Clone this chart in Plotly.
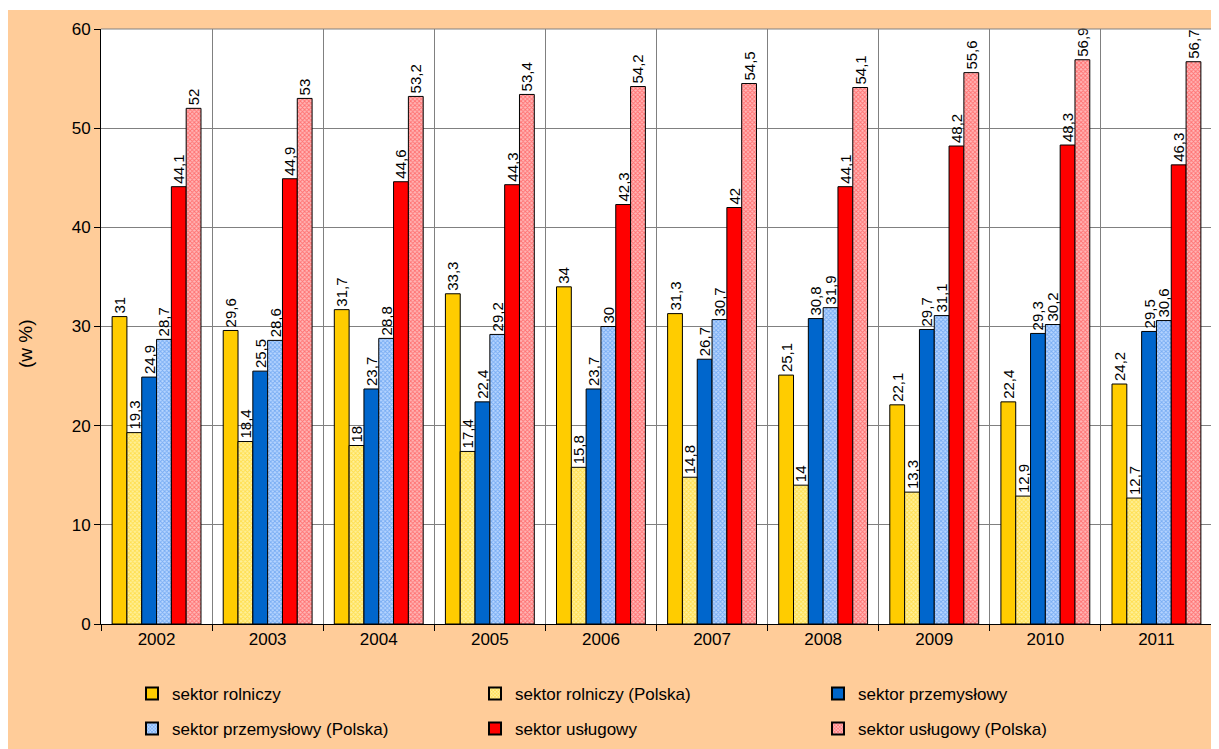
import plotly.graph_objects as go

years = ["2002", "2003", "2004", "2005", "2006", "2007", "2008", "2009", "2010", "2011"]
rolniczy = [31, 29.6, 31.7, 33.3, 34, 31.3, 25.1, 22.1, 22.4, 24.2]
rolniczy_pl = [19.3, 18.4, 18, 17.4, 15.8, 14.8, 14, 13.3, 12.9, 12.7]
przemyslowy = [24.9, 25.5, 23.7, 22.4, 23.7, 26.7, 30.8, 29.7, 29.3, 29.5]
przemyslowy_pl = [28.7, 28.6, 28.8, 29.2, 30, 30.7, 31.9, 31.1, 30.2, 30.6]
uslugowy = [44.1, 44.9, 44.6, 44.3, 42.3, 42, 44.1, 48.2, 48.3, 46.3]
uslugowy_pl = [52, 53, 53.2, 53.4, 54.2, 54.5, 54.1, 55.6, 56.9, 56.7]

series = [
    ("sektor rolniczy", rolniczy, "#FFCC00", None, "legend"),
    ("sektor rolniczy (Polska)", rolniczy_pl, "#FFF09A", "#FFCC00", "legend"),
    ("sektor przemysłowy", przemyslowy, "#0066CC", None, "legend"),
    ("sektor przemysłowy (Polska)", przemyslowy_pl, "#B8D6FF", "#3380E6", "legend2"),
    ("sektor usługowy", uslugowy, "#FF0000", None, "legend2"),
    ("sektor usługowy (Polska)", uslugowy_pl, "#FFB8B8", "#FF2828", "legend2"),
]

def fmt(v):
    return ("%g" % v).replace(".", ",")

FONT = "Liberation Sans, Arial, sans-serif"

fig = go.Figure()
for name, vals, col, fg, leg in series:
    marker = dict(color=col, line=dict(color="black", width=1))
    if fg is not None:
        marker["pattern"] = dict(shape="x", fgcolor=fg, bgcolor=col, size=3, solidity=0.5, fillmode="overlay")
    fig.add_trace(go.Bar(
        name=name, x=years, y=vals, marker=marker, legend=leg,
        text=[fmt(v) for v in vals], textposition="outside", textangle=-90,
        textfont=dict(family=FONT, size=15, color="black"),
        cliponaxis=False, constraintext="none",
    ))

# page body has an 8px margin; figure coordinates below are relative to it
W, H = 1211, 741
L, R, T, B = 93, 7, 21, 125
pw, ph = W - L - R, H - T - B

leg_common = dict(orientation="h", xref="container", yref="container", xanchor="left",
                  yanchor="middle", entrywidth=298, entrywidthmode="pixels",
                  font=dict(family=FONT, size=17), bgcolor="rgba(0,0,0,0)",
                  itemsizing="constant")

fig.update_layout(
    width=W, height=H,
    margin=dict(l=L, r=R, t=T, b=B, autoexpand=False),
    paper_bgcolor="#FFCC99", plot_bgcolor="white",
    barmode="group", bargap=0.2, bargroupgap=0,
    font=dict(family=FONT, size=17, color="black"),
    showlegend=True,
    legend=dict(x=124 / W, y=1 - 686 / H, **leg_common),
    legend2=dict(x=124 / W, y=1 - 721 / H, **leg_common),
    xaxis=dict(type="category", tickson="boundaries", showgrid=True, gridcolor="#808080",
               gridwidth=1, showline=True, linecolor="black", ticks="outside", ticklen=6,
               tickcolor="black", tickfont=dict(size=17)),
    yaxis=dict(range=[0, 60], dtick=10, showgrid=True, gridcolor="#808080", showline=True,
               linecolor="black", ticks="outside", ticklen=6, tickcolor="black",
               tickfont=dict(size=17), zeroline=False),
    annotations=[
        dict(text="(w %)", xref="paper", yref="paper", x=(17 - L) / pw, y=(H - B - 336) / ph,
             showarrow=False, textangle=-90, font=dict(size=19), xanchor="center", yanchor="middle"),
    ],
    shapes=[
        dict(type="rect", xref="paper", yref="paper", x0=-L / pw - 0.01, x1=1 + R / pw + 0.01,
             y0=(ph + T - 2) / ph, y1=(ph + T) / ph + 0.01, fillcolor="white", line_width=0, layer="above"),
        dict(type="line", xref="paper", yref="paper", x0=0, x1=1, y0=1, y1=1,
             line=dict(color="#808080", width=1)),
    ],
)

fig.write_html("out.html")
